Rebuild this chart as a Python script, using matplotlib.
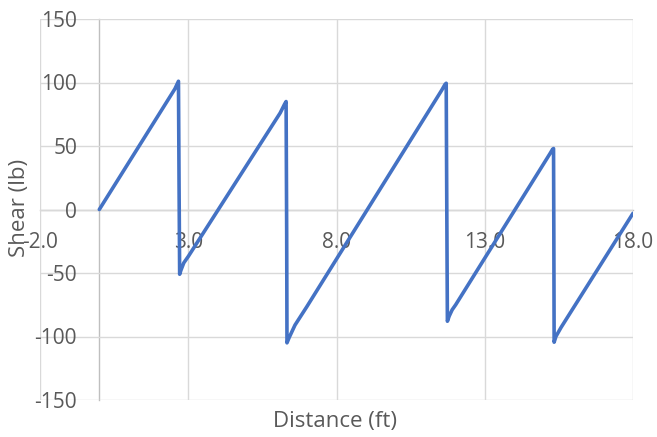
import matplotlib.pyplot as plt

# shear diagram values along the beam
distance = [0, 2.55, 2.67, 2.69, 2.71, 2.75, 2.85, 3.00, 6.10, 6.25, 6.30, 6.32, 6.33,
            6.40, 6.60, 7.00, 11.55, 11.66, 11.70, 11.72, 11.74, 11.80, 11.90, 12.02,
            15.20, 15.29, 15.32, 15.33, 15.34, 15.40, 15.57, 18.0]
shear = [0, 95, 101, 20, -51, -48, -42, -37, 76, 83, 85, -20, -105,
         -101, -91, -76.5, 94, 98.5, 99.4, 0, -88, -84, -79, -75,
         44, 47.5, 48, -20, -104.5, -100, -93, -3]

x_ticks = [-2, 3, 8, 13, 18]
y_ticks = [-150, -100, -50, 0, 50, 100, 150]

plt.rcParams['font.family'] = ['Open Sans', 'DejaVu Sans']
plt.rcParams['axes.unicode_minus'] = False
text_grey = '#595959'
grid_grey = '#D9D9D9'

fig = plt.figure(figsize=(6.57, 4.37), dpi=100)
ax = fig.add_axes([40 / 657, 37 / 437, 593 / 657, 381 / 437])

ax.plot(distance, shear, color='#4472C4', linewidth=2.6,
        solid_joinstyle='round', solid_capstyle='round', zorder=3)

ax.set_xlim(-2, 18)
ax.set_ylim(-150, 150)
ax.set_xticks(x_ticks)
ax.set_xticklabels(['%.1f' % t for t in x_ticks])
ax.set_yticks(y_ticks)
ax.grid(True, color=grid_grey, linewidth=1.0, zorder=0)

# axes cross at zero, like the spreadsheet chart
for side in ['top', 'right']:
    ax.spines[side].set_visible(False)
ax.spines['bottom'].set_position(('data', 0))
ax.spines['left'].set_position(('data', 0))
for side in ['bottom', 'left']:
    ax.spines[side].set_color('#BFBFBF')
    ax.spines[side].set_linewidth(1.0)
    ax.spines[side].set_zorder(1)

ax.tick_params(axis='x', length=0, pad=16, labelsize=15, labelcolor=text_grey)
ax.tick_params(axis='y', length=0, pad=16, labelsize=15, labelcolor=text_grey)

fig.text(20 / 657, 1 - 208 / 437, 'Shear (lb)', rotation=90, ha='center', va='center',
         fontsize=16, color=text_grey)
fig.text(335 / 657, 1 - 421 / 437, 'Distance (ft)', ha='center', va='center',
         fontsize=16, color=text_grey)

fig.savefig('out.png', dpi=100)
